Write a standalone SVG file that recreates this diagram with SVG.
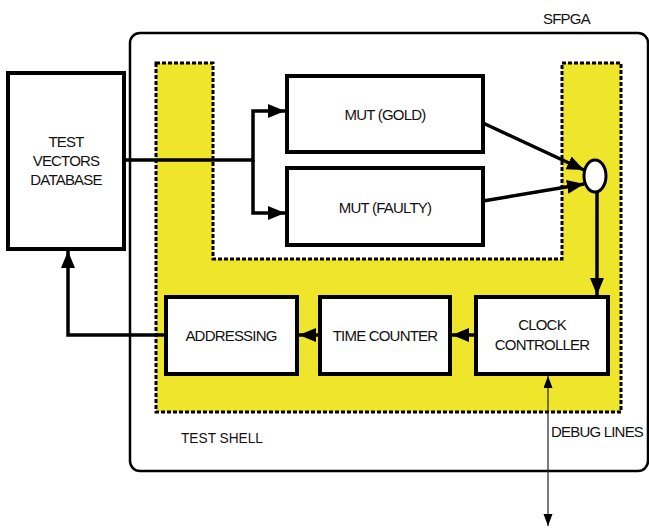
<svg xmlns="http://www.w3.org/2000/svg" width="649" height="528" viewBox="0 0 649 528">
<style>
  .box { fill: #fff; stroke: #000; stroke-width: 4; }
  .lbl { font-family: "Liberation Sans", Arial, sans-serif; font-size: 15px; letter-spacing: -0.8px; fill: #111; text-anchor: middle; }
  .free { font-family: "Liberation Sans", Arial, sans-serif; font-size: 15px; letter-spacing: -0.8px; fill: #111; }
  .thick { fill: none; stroke: #000; stroke-width: 3.5; }
  .thin { fill: none; stroke: #222; stroke-width: 1.2; }
</style>
<defs>
  <marker id="ah" markerUnits="userSpaceOnUse" markerWidth="20" markerHeight="16" refX="17" refY="7" orient="auto">
    <path d="M0,0 L17,7 L0,14 z" fill="#000"/>
  </marker>
  <marker id="ahs" markerUnits="userSpaceOnUse" markerWidth="14" markerHeight="10" refX="12" refY="4.5" orient="auto-start-reverse">
    <path d="M0,0 L12,4.5 L0,9 z" fill="#000"/>
  </marker>
</defs>
<rect width="649" height="528" fill="#fff"/>

<g id="sfpga">
  <rect x="130" y="33" width="518" height="438" rx="10" fill="#fff" stroke="#000" stroke-width="2.5"/>
  <text class="free" x="543" y="24" font-size="14">SFPGA</text>
</g>

<g id="test-shell">
  <path d="M156,63 H213 V259 H562 V63 H621 V412 H156 Z" fill="#EFE62C" stroke="#000" stroke-width="3" stroke-dasharray="4,2"/>
  <text class="free" x="181" y="443" font-size="17" textLength="82" lengthAdjust="spacingAndGlyphs" style="letter-spacing:0">TEST SHELL</text>
</g>

<g id="database">
  <rect class="box" x="8" y="73" width="116" height="176"/>
  <text class="lbl" x="66" y="147">TEST</text>
  <text class="lbl" x="66" y="166">VECTORS</text>
  <text class="lbl" x="66" y="185">DATABASE</text>
</g>

<g id="mut-gold">
  <rect class="box" x="287" y="76" width="196" height="76"/>
  <text class="lbl" x="385" y="120">MUT (GOLD)</text>
</g>

<g id="mut-faulty">
  <rect class="box" x="287" y="168" width="196" height="77"/>
  <text class="lbl" x="385" y="213">MUT (FAULTY)</text>
</g>

<g id="comparator">
  <ellipse cx="595" cy="176" rx="11" ry="16" fill="#fff" stroke="#000" stroke-width="3"/>
</g>

<g id="addressing">
  <rect class="box" x="166" y="297" width="131" height="77"/>
  <text class="lbl" x="231" y="341">ADDRESSING</text>
</g>

<g id="time-counter">
  <rect class="box" x="320" y="297" width="130" height="77"/>
  <text class="lbl" x="385" y="341">TIME COUNTER</text>
</g>

<g id="clock-controller">
  <rect class="box" x="476" y="297" width="132" height="77"/>
  <text class="lbl" x="542" y="330">CLOCK</text>
  <text class="lbl" x="542" y="350">CONTROLLER</text>
</g>

<g id="debug-label">
  <text class="free" x="551" y="437">DEBUG LINES</text>
</g>

<g id="connectors">
  <path class="thick" d="M124,160 H253 V111 H285" marker-end="url(#ah)"/>
  <path class="thick" d="M253,160 V213 H285" marker-end="url(#ah)"/>
  <path class="thick" d="M483,123 L584,170" marker-end="url(#ah)"/>
  <path class="thick" d="M483,201 L584,184" marker-end="url(#ah)"/>
  <path class="thick" d="M597,192 V295" stroke-width="2.5" marker-end="url(#ah)"/>
  <path class="thick" d="M476,335 H452" marker-end="url(#ah)"/>
  <path class="thick" d="M320,335 H299" marker-end="url(#ah)"/>
  <path class="thick" d="M166,335 H68 V251" marker-end="url(#ah)"/>
  <path class="thin" d="M548,376 V526" marker-start="url(#ahs)" marker-end="url(#ahs)"/>
</g>
</svg>
